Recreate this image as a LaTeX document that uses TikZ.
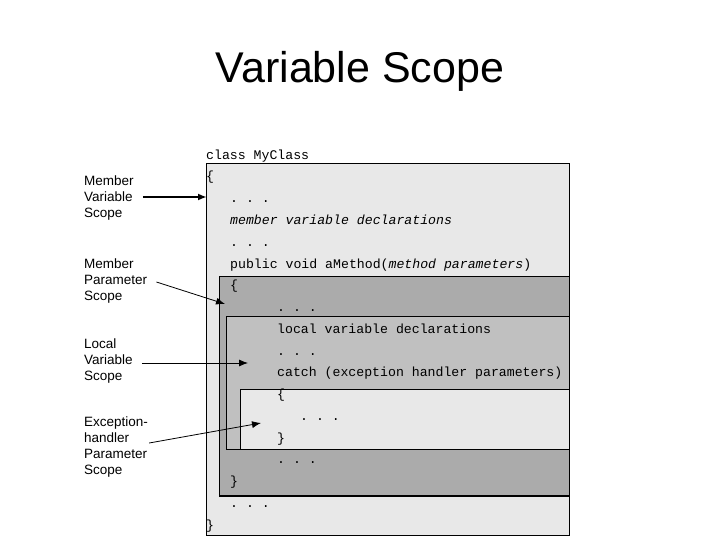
\documentclass[tikz,border=0pt]{standalone}
\usepackage{fontspec}
\setmainfont{Liberation Sans}
\setmonofont{Liberation Mono}
\usetikzlibrary{arrows.meta}
\definecolor{outerfill}{HTML}{E8E8E8}
\definecolor{methfill}{HTML}{ABABAB}
\definecolor{localfill}{HTML}{C0C0C0}
\definecolor{excfill}{HTML}{E8E8E8}
\tikzset{
  code/.style={anchor=base west, inner sep=0pt, font=\ttfamily\fontsize{13.2}{15}\selectfont},
  lbl/.style={anchor=west, inner sep=0pt, align=left, font=\fontsize{13.5}{15.8}\selectfont},
  scopebox/.style={draw=black, line width=0.8pt},
  pointer/.style={-{Latex[length=9pt,width=7pt]}, line width=0.8pt},
}
\begin{document}
\begin{tikzpicture}[x=1pt,y=-1pt]
\useasboundingbox (0,0) rectangle (720,540);
\fill[white] (0,0) rectangle (720,540);
% title
\node[anchor=base, inner sep=0pt, font=\fontsize{43}{50}\selectfont] (title) at (360,83) {Variable Scope};
% boxes
\draw[scopebox, fill=outerfill] (206,163) rectangle (569,535);
\draw[scopebox, fill=methfill] (219,276) rectangle (569,496);
\draw[line width=2pt] (219,496) -- (569,496);
\draw[scopebox, fill=localfill] (226,316) rectangle (569,449);
\draw[scopebox, fill=excfill] (240,389) rectangle (569,449);
% code lines
\node[code] (cls) at (206,160) {class MyClass};
\node[code] (l0) at (206,181) {\{};
\node[code] (l1) at (230,202.75) {. . .};
\node[code] (l2) at (230,224.5) {\itshape member variable declarations};
\node[code] (l3) at (230,246.25) {. . .};
\node[code] (l4) at (230,268) {public void aMethod(\textit{method parameters})};
\node[code] (l5) at (230,289.75) {\{};
\node[code] (l6) at (277,311.5) {. . .};
\node[code] (l7) at (277,333.25) {local variable declarations};
\node[code] (l8) at (277,355) {. . .};
\node[code] (l9) at (277,376.75) {catch (exception handler parameters)};
\node[code] (l10) at (277,398.5) {\{};
\node[code] (l11) at (300,420.25) {. . .};
\node[code] (l12) at (277,442) {\}};
\node[code] (l13) at (277,463.75) {. . .};
\node[code] (l14) at (230,485.5) {\}};
\node[code] (l15) at (230,507.25) {. . .};
\node[code] (l16) at (206,529) {\}};
% labels
\node[lbl] (mv) at (84,198) {Member\\Variable\\Scope};
\node[lbl] (mp) at (84,281) {Member\\Parameter\\Scope};
\node[lbl] (lv) at (84,361) {Local\\Variable\\Scope};
\node[lbl] (eh) at (84,447) {Exception-\\handler\\Parameter\\Scope};
% arrow targets
\coordinate (tmv) at (207,197);
\coordinate (tmp) at (225,304);
\coordinate (tlv) at (248,363);
\coordinate (teh) at (261,423);
% arrows
\draw[pointer, line width=2pt] ([xshift=9pt]mv.east |- tmv) -- (tmv);
\draw[pointer] ([xshift=9pt,yshift=-1pt]mp.east) -- (tmp);
\draw[pointer] ([xshift=9pt]lv.east |- tlv) -- (tlv);
\draw[pointer] ([xshift=1pt,yshift=4pt]eh.east) -- (teh);
\end{tikzpicture}
\end{document}
